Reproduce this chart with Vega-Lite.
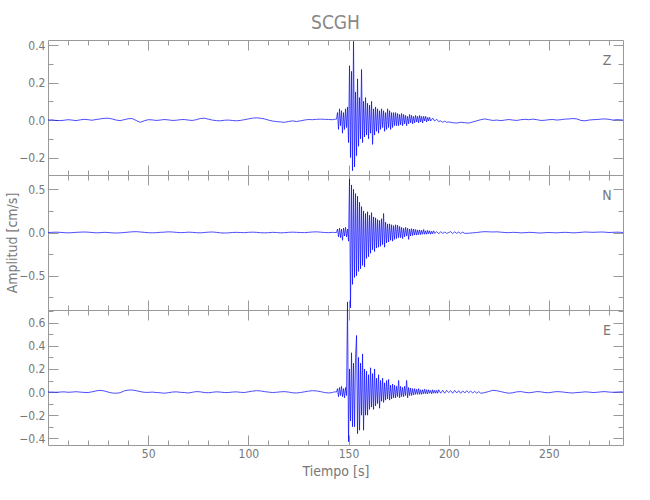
{
"$schema": "https://vega.github.io/schema/vega-lite/v6.json",
"padding": {"left": 5, "top": 13, "right": 10, "bottom": 5},
"title": {"text": "SCGH", "anchor": "middle", "offset": 6, "frame": "group"},
"spacing": 0,
"bounds": "flush",
"datasets": {
"z": [{"t":0,"v":0},{"t":2,"v":0.001},{"t":4,"v":-0.002},{"t":6,"v":-0.003},{"t":8,"v":-0.001},{"t":10,"v":0.002},{"t":12,"v":0},{"t":14,"v":-0.003},{"t":16,"v":0.001},{"t":18,"v":0.004},{"t":20,"v":0.002},{"t":22,"v":-0.001},{"t":24,"v":0.003},{"t":26,"v":0.006},{"t":28,"v":0.009},{"t":30,"v":0.01},{"t":32,"v":0.006},{"t":34,"v":0},{"t":36,"v":-0.003},{"t":38,"v":0.002},{"t":40,"v":0.007},{"t":42,"v":0.008},{"t":44,"v":-0.002},{"t":46,"v":-0.012},{"t":48,"v":-0.004},{"t":50,"v":0.002},{"t":52,"v":0.001},{"t":54,"v":-0.002},{"t":56,"v":0},{"t":58,"v":0.003},{"t":60,"v":0.001},{"t":62,"v":-0.002},{"t":64,"v":-0.001},{"t":66,"v":0.002},{"t":68,"v":0.003},{"t":70,"v":0},{"t":72,"v":-0.002},{"t":74,"v":0.002},{"t":76,"v":0.008},{"t":78,"v":0.01},{"t":80,"v":0.005},{"t":82,"v":0},{"t":84,"v":-0.003},{"t":86,"v":-0.004},{"t":88,"v":-0.001},{"t":90,"v":0},{"t":92,"v":-0.002},{"t":94,"v":-0.004},{"t":96,"v":-0.002},{"t":98,"v":0.002},{"t":100,"v":0.006},{"t":102,"v":0.01},{"t":104,"v":0.012},{"t":106,"v":0.01},{"t":108,"v":0.006},{"t":110,"v":0},{"t":112,"v":-0.005},{"t":114,"v":-0.008},{"t":116,"v":-0.01},{"t":118,"v":-0.012},{"t":120,"v":-0.008},{"t":122,"v":-0.004},{"t":124,"v":-0.008},{"t":126,"v":-0.004},{"t":128,"v":0},{"t":130,"v":0.003},{"t":132,"v":0.002},{"t":134,"v":0.004},{"t":136,"v":0.005},{"t":138,"v":0.004},{"t":140,"v":0.003},{"t":142,"v":0.002},{"t":143,"v":0.004},
{"t":144,"v":0.005},{"t":144.5,"v":0.04},{"t":145,"v":-0.05},{"t":145.5,"v":0.06},{"t":146,"v":-0.03},{"t":146.5,"v":0.05},{"t":147,"v":-0.07},{"t":147.5,"v":0.04},{"t":148,"v":-0.05},{"t":148.5,"v":0.06},{"t":149,"v":-0.04},{"t":149.5,"v":0.07},{"t":150,"v":-0.12},{"t":150.5,"v":0.29},{"t":151,"v":-0.2},{"t":151.5,"v":0.26},{"t":152,"v":-0.27},{"t":152.5,"v":0.42},{"t":153,"v":-0.25},{"t":153.5,"v":0.15},{"t":154,"v":-0.19},{"t":154.5,"v":0.22},{"t":155,"v":-0.14},{"t":155.5,"v":0.12},{"t":156,"v":-0.1},{"t":156.5,"v":0.27},{"t":157,"v":-0.12},{"t":157.5,"v":0.1},{"t":158,"v":-0.09},{"t":158.5,"v":0.12},{"t":159,"v":-0.08},{"t":159.5,"v":0.09},{"t":160,"v":-0.1},{"t":160.5,"v":0.08},{"t":161,"v":-0.07},{"t":161.5,"v":0.1},{"t":162,"v":-0.13},{"t":162.5,"v":0.06},{"t":163,"v":-0.08},{"t":163.5,"v":0.07},{"t":164,"v":-0.06},{"t":164.5,"v":0.06},{"t":165,"v":-0.07},{"t":165.5,"v":0.05},{"t":166,"v":-0.05},{"t":166.5,"v":0.06},{"t":167,"v":-0.04},{"t":167.5,"v":0.05},{"t":168,"v":-0.06},{"t":168.5,"v":0.04},{"t":169,"v":-0.05},{"t":169.5,"v":0.06},{"t":170,"v":-0.04},{"t":170.5,"v":0.05},{"t":171,"v":-0.05},{"t":171.5,"v":0.04},{"t":172,"v":-0.04},{"t":172.5,"v":0.04},{"t":173,"v":-0.03},{"t":173.5,"v":0.04},{"t":174,"v":-0.03},{"t":174.5,"v":0.035},{"t":175,"v":-0.03},{"t":175.5,"v":0.03},{"t":176,"v":-0.025},{"t":176.5,"v":0.035},{"t":177,"v":-0.03},{"t":177.5,"v":0.03},{"t":178,"v":-0.02},{"t":178.5,"v":0.025},{"t":179,"v":-0.03},{"t":179.5,"v":0.02},{"t":180,"v":-0.02},{"t":180.5,"v":0.03},{"t":181,"v":-0.015},{"t":181.5,"v":0.025},{"t":182,"v":-0.02},{"t":182.5,"v":0.02},{"t":183,"v":-0.015},{"t":183.5,"v":0.025},{"t":184,"v":-0.01},{"t":184.5,"v":0.02},{"t":185,"v":-0.015},{"t":185.5,"v":0.025},{"t":186,"v":-0.01},{"t":186.5,"v":0.02},{"t":187,"v":-0.015},{"t":187.5,"v":0.02},{"t":188,"v":-0.005},{"t":188.5,"v":0.02},{"t":189,"v":-0.01},{"t":189.5,"v":0.015},{"t":190,"v":-0.005},{"t":190.5,"v":0.015},{"t":191,"v":-0.005},{"t":192,"v":0.01},{"t":193,"v":-0.005},{"t":194,"v":0.005},{"t":195,"v":-0.008},{"t":196,"v":-0.004},{"t":197,"v":-0.012},{"t":198,"v":-0.006},{"t":199,"v":-0.012},{"t":200,"v":-0.01},
{"t":202,"v":-0.014},{"t":204,"v":-0.016},{"t":206,"v":-0.012},{"t":208,"v":-0.014},{"t":210,"v":-0.016},{"t":212,"v":-0.01},{"t":214,"v":-0.004},{"t":216,"v":0.002},{"t":218,"v":0.006},{"t":220,"v":0.002},{"t":222,"v":-0.002},{"t":224,"v":0},{"t":226,"v":-0.003},{"t":228,"v":0},{"t":230,"v":0.003},{"t":232,"v":0},{"t":234,"v":-0.002},{"t":236,"v":0.002},{"t":238,"v":0.004},{"t":240,"v":0.002},{"t":242,"v":0.005},{"t":244,"v":0.002},{"t":246,"v":-0.002},{"t":248,"v":-0.001},{"t":250,"v":0.002},{"t":252,"v":0.003},{"t":254,"v":0},{"t":256,"v":0.002},{"t":258,"v":0.005},{"t":260,"v":0.006},{"t":262,"v":0.008},{"t":264,"v":0.006},{"t":266,"v":-0.002},{"t":268,"v":-0.004},{"t":270,"v":0},{"t":272,"v":0.002},{"t":274,"v":0.003},{"t":276,"v":0.005},{"t":278,"v":0.006},{"t":280,"v":0.004},{"t":282,"v":0},{"t":284,"v":0.002},{"t":286,"v":0.001},{"t":287,"v":0}],
"n": [{"t":0,"v":0},{"t":2,"v":0.002},{"t":4,"v":0.004},{"t":6,"v":0.002},{"t":8,"v":-0.002},{"t":10,"v":-0.004},{"t":12,"v":-0.002},{"t":14,"v":0.002},{"t":16,"v":0.004},{"t":18,"v":0.006},{"t":20,"v":0.004},{"t":22,"v":0},{"t":24,"v":-0.004},{"t":26,"v":-0.002},{"t":28,"v":0.002},{"t":30,"v":0},{"t":32,"v":-0.004},{"t":34,"v":-0.006},{"t":36,"v":-0.004},{"t":38,"v":0},{"t":40,"v":0.004},{"t":42,"v":0.008},{"t":44,"v":0.01},{"t":46,"v":0.006},{"t":48,"v":0.002},{"t":50,"v":-0.002},{"t":52,"v":-0.004},{"t":54,"v":-0.002},{"t":56,"v":0.002},{"t":58,"v":0.004},{"t":60,"v":0.008},{"t":62,"v":0.006},{"t":64,"v":0.002},{"t":66,"v":-0.002},{"t":68,"v":0},{"t":70,"v":0.004},{"t":72,"v":0.002},{"t":74,"v":-0.002},{"t":76,"v":-0.004},{"t":78,"v":0},{"t":80,"v":0.004},{"t":82,"v":0.006},{"t":84,"v":0.002},{"t":86,"v":-0.004},{"t":88,"v":-0.006},{"t":90,"v":-0.004},{"t":92,"v":0},{"t":94,"v":0.002},{"t":96,"v":0},{"t":98,"v":-0.002},{"t":100,"v":0.002},{"t":102,"v":0.004},{"t":104,"v":0.002},{"t":106,"v":-0.002},{"t":108,"v":-0.004},{"t":110,"v":-0.002},{"t":112,"v":0.002},{"t":114,"v":0},{"t":116,"v":-0.004},{"t":118,"v":-0.002},{"t":120,"v":0.002},{"t":122,"v":0.004},{"t":124,"v":0.002},{"t":126,"v":0},{"t":128,"v":-0.002},{"t":130,"v":0.002},{"t":132,"v":0.006},{"t":134,"v":0.008},{"t":136,"v":0.004},{"t":138,"v":0},{"t":140,"v":-0.002},{"t":142,"v":0.002},{"t":143,"v":0},
{"t":144,"v":0},{"t":144.5,"v":0.04},{"t":145,"v":-0.05},{"t":145.5,"v":0.05},{"t":146,"v":-0.06},{"t":146.5,"v":0.04},{"t":147,"v":-0.09},{"t":147.5,"v":0.05},{"t":148,"v":-0.04},{"t":148.5,"v":0.06},{"t":149,"v":-0.05},{"t":149.5,"v":0.04},{"t":150,"v":-0.1},{"t":150.5,"v":0.62},{"t":151,"v":-0.87},{"t":151.5,"v":0.55},{"t":152,"v":-0.6},{"t":152.5,"v":0.5},{"t":153,"v":-0.52},{"t":153.5,"v":0.45},{"t":154,"v":-0.5},{"t":154.5,"v":0.42},{"t":155,"v":-0.45},{"t":155.5,"v":0.35},{"t":156,"v":-0.42},{"t":156.5,"v":0.3},{"t":157,"v":-0.38},{"t":157.5,"v":0.25},{"t":158,"v":-0.4},{"t":158.5,"v":0.22},{"t":159,"v":-0.3},{"t":159.5,"v":0.24},{"t":160,"v":-0.28},{"t":160.5,"v":0.2},{"t":161,"v":-0.24},{"t":161.5,"v":0.23},{"t":162,"v":-0.2},{"t":162.5,"v":0.18},{"t":163,"v":-0.22},{"t":163.5,"v":0.17},{"t":164,"v":-0.18},{"t":164.5,"v":0.15},{"t":165,"v":-0.17},{"t":165.5,"v":0.14},{"t":166,"v":-0.16},{"t":166.5,"v":0.16},{"t":167,"v":-0.14},{"t":167.5,"v":0.22},{"t":168,"v":-0.17},{"t":168.5,"v":0.12},{"t":169,"v":-0.12},{"t":169.5,"v":0.1},{"t":170,"v":-0.11},{"t":170.5,"v":0.1},{"t":171,"v":-0.09},{"t":171.5,"v":0.09},{"t":172,"v":-0.1},{"t":172.5,"v":0.08},{"t":173,"v":-0.08},{"t":173.5,"v":0.09},{"t":174,"v":-0.07},{"t":174.5,"v":0.085},{"t":175,"v":-0.06},{"t":175.5,"v":0.07},{"t":176,"v":-0.06},{"t":176.5,"v":0.06},{"t":177,"v":-0.07},{"t":177.5,"v":0.05},{"t":178,"v":-0.05},{"t":178.5,"v":0.06},{"t":179,"v":-0.04},{"t":179.5,"v":0.05},{"t":180,"v":-0.08},{"t":180.5,"v":0.04},{"t":181,"v":-0.04},{"t":181.5,"v":0.045},{"t":182,"v":-0.035},{"t":182.5,"v":0.04},{"t":183,"v":-0.03},{"t":183.5,"v":0.035},{"t":184,"v":-0.03},{"t":184.5,"v":0.03},{"t":185,"v":-0.025},{"t":185.5,"v":0.03},{"t":186,"v":-0.025},{"t":186.5,"v":0.025},{"t":187,"v":-0.02},{"t":187.5,"v":0.035},{"t":188,"v":-0.02},{"t":188.5,"v":0.02},{"t":189,"v":-0.02},{"t":189.5,"v":0.025},{"t":190,"v":-0.015},{"t":190.5,"v":0.02},{"t":191,"v":-0.02},{"t":191.5,"v":0.015},{"t":192,"v":-0.015},{"t":192.5,"v":0.02},{"t":193,"v":-0.01},{"t":194,"v":0.01},{"t":195,"v":-0.015},{"t":196,"v":0.01},{"t":197,"v":-0.01},{"t":198,"v":0.005},{"t":199,"v":-0.01},{"t":200,"v":0},
{"t":201,"v":0.01},{"t":202,"v":-0.012},{"t":203,"v":0.008},{"t":204,"v":-0.01},{"t":205,"v":0.006},{"t":206,"v":-0.012},{"t":207,"v":0.004},{"t":208,"v":-0.01},{"t":210,"v":-0.008},{"t":212,"v":-0.004},{"t":214,"v":0},{"t":216,"v":0.006},{"t":218,"v":0.01},{"t":220,"v":0.008},{"t":222,"v":0.006},{"t":224,"v":0.008},{"t":226,"v":0.004},{"t":228,"v":0},{"t":230,"v":-0.002},{"t":232,"v":0.002},{"t":234,"v":0},{"t":236,"v":-0.004},{"t":238,"v":-0.002},{"t":240,"v":0.002},{"t":242,"v":0},{"t":244,"v":-0.004},{"t":246,"v":-0.006},{"t":248,"v":-0.002},{"t":250,"v":0},{"t":252,"v":-0.002},{"t":254,"v":-0.004},{"t":256,"v":0},{"t":258,"v":0.002},{"t":260,"v":0},{"t":262,"v":-0.004},{"t":264,"v":-0.002},{"t":266,"v":0.002},{"t":268,"v":0.006},{"t":270,"v":0.004},{"t":272,"v":0.002},{"t":274,"v":0.004},{"t":276,"v":0.006},{"t":278,"v":0.004},{"t":280,"v":0},{"t":282,"v":0.002},{"t":284,"v":0.004},{"t":286,"v":0.002},{"t":287,"v":0}],
"e": [{"t":0,"v":0},{"t":2,"v":0},{"t":4,"v":-0.002},{"t":6,"v":0},{"t":8,"v":0.002},{"t":10,"v":-0.002},{"t":12,"v":0},{"t":14,"v":0.003},{"t":16,"v":0},{"t":18,"v":-0.003},{"t":20,"v":-0.004},{"t":22,"v":0.002},{"t":24,"v":0.01},{"t":26,"v":0.015},{"t":28,"v":0.01},{"t":30,"v":0},{"t":32,"v":-0.008},{"t":34,"v":-0.01},{"t":36,"v":-0.006},{"t":38,"v":0.01},{"t":40,"v":0.017},{"t":42,"v":0.018},{"t":44,"v":0.012},{"t":46,"v":0.004},{"t":48,"v":-0.002},{"t":50,"v":-0.003},{"t":52,"v":0},{"t":54,"v":-0.004},{"t":56,"v":-0.006},{"t":58,"v":-0.01},{"t":60,"v":-0.006},{"t":62,"v":0},{"t":64,"v":0.002},{"t":66,"v":-0.002},{"t":68,"v":-0.004},{"t":70,"v":-0.008},{"t":72,"v":-0.002},{"t":74,"v":0.004},{"t":76,"v":0.002},{"t":78,"v":-0.004},{"t":80,"v":-0.006},{"t":82,"v":-0.002},{"t":84,"v":0.002},{"t":86,"v":0},{"t":88,"v":-0.004},{"t":90,"v":-0.004},{"t":92,"v":0},{"t":94,"v":0.002},{"t":96,"v":-0.002},{"t":98,"v":-0.004},{"t":100,"v":0.002},{"t":102,"v":0.008},{"t":104,"v":0.012},{"t":106,"v":0.01},{"t":108,"v":0.004},{"t":110,"v":0},{"t":112,"v":-0.004},{"t":114,"v":-0.002},{"t":116,"v":0.002},{"t":118,"v":0.004},{"t":120,"v":0},{"t":122,"v":-0.006},{"t":124,"v":-0.008},{"t":126,"v":-0.004},{"t":128,"v":0.002},{"t":130,"v":0.008},{"t":132,"v":0.012},{"t":134,"v":0.01},{"t":136,"v":0.004},{"t":138,"v":-0.004},{"t":140,"v":-0.008},{"t":142,"v":-0.004},{"t":143,"v":0.002},
{"t":144,"v":0},{"t":144.5,"v":0.03},{"t":145,"v":-0.04},{"t":145.5,"v":0.04},{"t":146,"v":-0.03},{"t":146.5,"v":0.05},{"t":147,"v":-0.04},{"t":147.5,"v":0.03},{"t":148,"v":-0.05},{"t":148.5,"v":0.04},{"t":149,"v":-0.03},{"t":149.5,"v":0.78},{"t":150,"v":-0.43},{"t":150.5,"v":0.2},{"t":151,"v":-0.25},{"t":151.5,"v":0.34},{"t":152,"v":-0.3},{"t":152.5,"v":0.25},{"t":153,"v":-0.3},{"t":153.5,"v":0.3},{"t":154,"v":0.49},{"t":154.5,"v":-0.36},{"t":155,"v":0.3},{"t":155.5,"v":-0.33},{"t":156,"v":0.25},{"t":156.5,"v":-0.2},{"t":157,"v":0.33},{"t":157.5,"v":-0.33},{"t":158,"v":0.2},{"t":158.5,"v":-0.2},{"t":159,"v":0.18},{"t":159.5,"v":-0.2},{"t":160,"v":0.15},{"t":160.5,"v":-0.15},{"t":161,"v":0.21},{"t":161.5,"v":-0.13},{"t":162,"v":0.16},{"t":162.5,"v":-0.15},{"t":163,"v":0.2},{"t":163.5,"v":-0.12},{"t":164,"v":0.12},{"t":164.5,"v":-0.1},{"t":165,"v":0.15},{"t":165.5,"v":-0.14},{"t":166,"v":0.1},{"t":166.5,"v":-0.08},{"t":167,"v":0.12},{"t":167.5,"v":-0.09},{"t":168,"v":0.08},{"t":168.5,"v":-0.07},{"t":169,"v":0.1},{"t":169.5,"v":-0.06},{"t":170,"v":0.11},{"t":170.5,"v":-0.07},{"t":171,"v":0.06},{"t":171.5,"v":-0.06},{"t":172,"v":0.07},{"t":172.5,"v":-0.05},{"t":173,"v":0.06},{"t":173.5,"v":-0.05},{"t":174,"v":0.05},{"t":174.5,"v":-0.04},{"t":175,"v":0.1},{"t":175.5,"v":-0.05},{"t":176,"v":0.05},{"t":176.5,"v":-0.04},{"t":177,"v":0.04},{"t":177.5,"v":-0.04},{"t":178,"v":0.05},{"t":178.5,"v":-0.03},{"t":179,"v":0.1},{"t":179.5,"v":-0.05},{"t":180,"v":0.04},{"t":180.5,"v":-0.03},{"t":181,"v":0.035},{"t":181.5,"v":-0.03},{"t":182,"v":0.03},{"t":182.5,"v":-0.025},{"t":183,"v":0.03},{"t":183.5,"v":-0.02},{"t":184,"v":0.025},{"t":184.5,"v":-0.02},{"t":185,"v":0.03},{"t":185.5,"v":-0.02},{"t":186,"v":0.02},{"t":186.5,"v":-0.02},{"t":187,"v":0.02},{"t":187.5,"v":-0.015},{"t":188,"v":0.025},{"t":188.5,"v":-0.015},{"t":189,"v":0.02},{"t":189.5,"v":-0.015},{"t":190,"v":0.02},{"t":190.5,"v":-0.01},{"t":191,"v":0.015},{"t":191.5,"v":-0.015},{"t":192,"v":0.02},{"t":192.5,"v":-0.01},{"t":193,"v":0.015},{"t":193.5,"v":-0.01},{"t":194,"v":0.015},{"t":194.5,"v":-0.01},{"t":195,"v":0.02},{"t":196,"v":-0.01},{"t":197,"v":0.015},{"t":198,"v":-0.01},{"t":199,"v":0.015},{"t":200,"v":-0.005},
{"t":201,"v":0.012},{"t":202,"v":-0.01},{"t":203,"v":0.015},{"t":204,"v":-0.008},{"t":205,"v":0.012},{"t":206,"v":-0.01},{"t":207,"v":0.01},{"t":208,"v":-0.008},{"t":209,"v":0.012},{"t":210,"v":-0.005},{"t":211,"v":0.008},{"t":212,"v":-0.008},{"t":213,"v":0.006},{"t":214,"v":-0.01},{"t":215,"v":0.004},{"t":216,"v":-0.01},{"t":218,"v":-0.005},{"t":220,"v":0.005},{"t":222,"v":0.015},{"t":224,"v":0.012},{"t":226,"v":0.004},{"t":228,"v":-0.004},{"t":230,"v":-0.01},{"t":232,"v":-0.006},{"t":234,"v":0.002},{"t":236,"v":0.004},{"t":238,"v":-0.002},{"t":240,"v":-0.006},{"t":242,"v":-0.002},{"t":244,"v":0.004},{"t":246,"v":0.002},{"t":248,"v":-0.004},{"t":250,"v":-0.006},{"t":252,"v":0},{"t":254,"v":0.004},{"t":256,"v":0.002},{"t":258,"v":-0.002},{"t":260,"v":-0.006},{"t":262,"v":-0.008},{"t":264,"v":-0.004},{"t":266,"v":-0.002},{"t":268,"v":0.002},{"t":270,"v":0},{"t":272,"v":-0.004},{"t":274,"v":-0.002},{"t":276,"v":0.002},{"t":278,"v":0.004},{"t":280,"v":0},{"t":282,"v":-0.002},{"t":284,"v":0},{"t":286,"v":0.002},{"t":287,"v":0}]
},
"vconcat": [
{
"width": 575, "height": 135,
"layer": [
{"data": {"name": "z"},
 "mark": {"type": "line", "color": "#0000ff", "strokeWidth": 0.7, "clip": false},
 "encoding": {
  "x": {"field": "t", "type": "quantitative", "scale": {"domain": [0, 287], "nice": false, "zero": false},
   "axis": {"orient": "bottom", "values": [10,20,30,40,50,60,70,80,90,100,110,120,130,140,150,160,170,180,190,200,210,220,230,240,250,260,270,280], "tickSize": {"condition": {"test": "datum.value % 50 === 0", "value": -10}, "value": -5}, "labels": false, "title": null}},
  "y": {"field": "v", "type": "quantitative", "scale": {"domain": [-0.293, 0.427], "nice": false, "zero": false},
   "axis": {"orient": "left", "values": [-0.2,-0.1,0,0.1,0.2,0.3,0.4], "format": ".1f", "tickSize": {"condition": {"test": "abs(round(datum.value*10)) % 2 === 0", "value": -10}, "value": -5}, "labelExpr": "abs(round(datum.value*10)) % 2 === 0 ? datum.label : ''", "labelPadding": 13, "title": null}}
 }},
{"data": {"values": [{"t": 279, "v": 0.315, "label": "Z"}]},
 "mark": {"type": "text", "fontSize": 14, "color": "#777", "align": "center", "baseline": "middle"},
 "encoding": {
  "x": {"field": "t", "type": "quantitative", "scale": {"domain": [0, 287], "nice": false, "zero": false},
   "axis": {"orient": "top", "values": [10,20,30,40,50,60,70,80,90,100,110,120,130,140,150,160,170,180,190,200,210,220,230,240,250,260,270,280], "tickSize": {"condition": {"test": "datum.value % 50 === 0", "value": -10}, "value": -5}, "labels": false, "title": null}},
  "y": {"field": "v", "type": "quantitative", "scale": {"domain": [-0.293, 0.427], "nice": false, "zero": false},
   "axis": {"orient": "right", "values": [-0.2,-0.1,0,0.1,0.2,0.3,0.4], "tickSize": {"condition": {"test": "abs(round(datum.value*10)) % 2 === 0", "value": -10}, "value": -5}, "labels": false, "title": null}},
  "text": {"field": "label"}
 }}
],
"resolve": {"axis": {"x": "independent", "y": "independent"}}
},
{
"width": 575, "height": 135,
"layer": [
{"data": {"name": "n"},
 "mark": {"type": "line", "color": "#0000ff", "strokeWidth": 0.7, "clip": false},
 "encoding": {
  "x": {"field": "t", "type": "quantitative", "scale": {"domain": [0, 287], "nice": false, "zero": false},
   "axis": {"orient": "bottom", "values": [10,20,30,40,50,60,70,80,90,100,110,120,130,140,150,160,170,180,190,200,210,220,230,240,250,260,270,280], "tickSize": {"condition": {"test": "datum.value % 50 === 0", "value": -10}, "value": -5}, "labels": false, "title": null}},
  "y": {"field": "v", "type": "quantitative", "scale": {"domain": [-0.896, 0.665], "nice": false, "zero": false},
   "axis": {"orient": "left", "values": [-0.75,-0.5,-0.25,0,0.25,0.5], "format": ".1f", "tickSize": {"condition": {"test": "abs(round(datum.value*4)) % 2 === 0", "value": -10}, "value": -5}, "labelExpr": "abs(round(datum.value*4)) % 2 === 0 ? datum.label : ''", "labelPadding": 13, "title": "Amplitud [cm/s]", "titlePadding": -1}}
 }},
{"data": {"values": [{"t": 279, "v": 0.42, "label": "N"}]},
 "mark": {"type": "text", "fontSize": 14, "color": "#777", "align": "center", "baseline": "middle"},
 "encoding": {
  "x": {"field": "t", "type": "quantitative", "scale": {"domain": [0, 287], "nice": false, "zero": false},
   "axis": {"orient": "top", "values": [10,20,30,40,50,60,70,80,90,100,110,120,130,140,150,160,170,180,190,200,210,220,230,240,250,260,270,280], "tickSize": {"condition": {"test": "datum.value % 50 === 0", "value": -10}, "value": -5}, "labels": false, "title": null}},
  "y": {"field": "v", "type": "quantitative", "scale": {"domain": [-0.896, 0.665], "nice": false, "zero": false},
   "axis": {"orient": "right", "values": [-0.75,-0.5,-0.25,0,0.25,0.5], "tickSize": {"condition": {"test": "abs(round(datum.value*4)) % 2 === 0", "value": -10}, "value": -5}, "labels": false, "title": null}},
  "text": {"field": "label"}
 }}
],
"resolve": {"axis": {"x": "independent", "y": "independent"}}
},
{
"width": 575, "height": 135,
"layer": [
{"data": {"name": "e"},
 "mark": {"type": "line", "color": "#0000ff", "strokeWidth": 0.7, "clip": false},
 "encoding": {
  "x": {"field": "t", "type": "quantitative", "scale": {"domain": [0, 287], "nice": false, "zero": false},
   "axis": {"orient": "bottom", "values": [10,20,30,40,50,60,70,80,90,100,110,120,130,140,150,160,170,180,190,200,210,220,230,240,250,260,270,280], "format": "d", "tickSize": {"condition": {"test": "datum.value % 50 === 0", "value": -10}, "value": -5}, "labelExpr": "datum.value % 50 === 0 ? datum.label : ''", "labelPadding": 13, "title": "Tiempo [s]", "titlePadding": 0}},
  "y": {"field": "v", "type": "quantitative", "scale": {"domain": [-0.458, 0.71], "nice": false, "zero": false},
   "axis": {"orient": "left", "values": [-0.4,-0.3,-0.2,-0.1,0,0.1,0.2,0.3,0.4,0.5,0.6,0.7], "format": ".1f", "tickSize": {"condition": {"test": "abs(round(datum.value*10)) % 2 === 0", "value": -10}, "value": -5}, "labelExpr": "abs(round(datum.value*10)) % 2 === 0 ? datum.label : ''", "labelPadding": 13, "title": null}}
 }},
{"data": {"values": [{"t": 279, "v": 0.525, "label": "E"}]},
 "mark": {"type": "text", "fontSize": 14, "color": "#777", "align": "center", "baseline": "middle"},
 "encoding": {
  "x": {"field": "t", "type": "quantitative", "scale": {"domain": [0, 287], "nice": false, "zero": false},
   "axis": {"orient": "top", "values": [10,20,30,40,50,60,70,80,90,100,110,120,130,140,150,160,170,180,190,200,210,220,230,240,250,260,270,280], "tickSize": {"condition": {"test": "datum.value % 50 === 0", "value": -10}, "value": -5}, "labels": false, "title": null}},
  "y": {"field": "v", "type": "quantitative", "scale": {"domain": [-0.458, 0.71], "nice": false, "zero": false},
   "axis": {"orient": "right", "values": [-0.4,-0.3,-0.2,-0.1,0,0.1,0.2,0.3,0.4,0.5,0.6,0.7], "tickSize": {"condition": {"test": "abs(round(datum.value*10)) % 2 === 0", "value": -10}, "value": -5}, "labels": false, "title": null}},
  "text": {"field": "label"}
 }}
],
"resolve": {"axis": {"x": "independent", "y": "independent"}}
}
],
"config": {
 "font": "'DejaVu Sans Condensed', 'Liberation Sans Narrow', Roboto, sans-serif",
 "view": {"stroke": "#999", "strokeWidth": 1},
 "axis": {"domain": false, "grid": false, "tickColor": "#999", "tickWidth": 1, "labelColor": "#777", "labelFontSize": 12, "titleColor": "#777", "titleFontSize": 14, "titleFontWeight": "normal", "labelOverlap": false, "labelFlush": false},
 "title": {"color": "#888", "fontSize": 19, "fontWeight": "normal"}
}
}
